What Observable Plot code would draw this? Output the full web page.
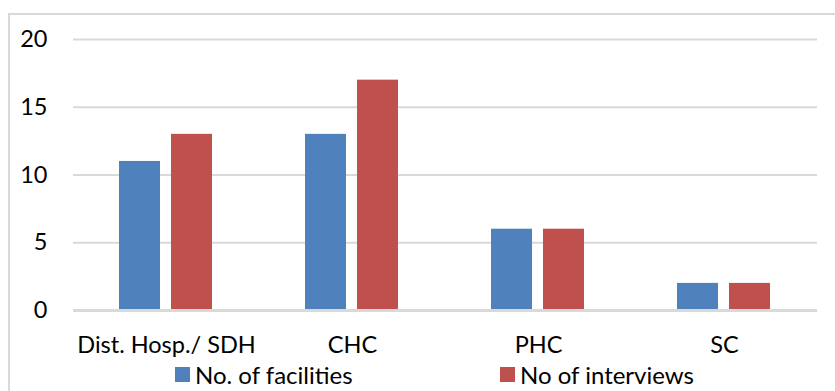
<!DOCTYPE html>
<html>
<head>
<meta charset="utf-8">
<script src="https://cdn.jsdelivr.net/npm/d3@7"></script>
<script src="https://cdn.jsdelivr.net/npm/@observablehq/plot@0.6"></script>
<style>
  html, body { margin: 0; padding: 0; background: #fff; }
  #wrap { position: relative; width: 835px; height: 391px; overflow: hidden; font-family: Lato, "Open Sans", sans-serif; }
  #frame { position: absolute; left: 8px; top: 13px; width: 900px; height: 500px; border: 2px solid #d9d9d9; box-sizing: border-box; }
  #chart { position: absolute; left: 0; top: 0; }
  .item { position: absolute; top: 360px; display: flex; align-items: center; font-size: 24px; color: #000; white-space: nowrap; }
  .swatch { width: 15px; height: 15px; margin-right: 5px; }
</style>
</head>
<body>
<div id="wrap">
  <div id="frame"></div>
  <div id="chart"></div>
  <div id="legend"></div>
</div>
<script>
// Facility types and the two counted series
const categories = ["Dist. Hosp./ SDH", "CHC", "PHC", "SC"];
const seriesNames = ["No. of facilities", "No of interviews"];
const facilities = [11, 13, 6, 2];
const interviews = [13, 17, 6, 2];
const yTicks = [0, 5, 10, 15, 20];
const colors = ["#4f81bd", "#c0504d"];

const rows = categories.flatMap((c, i) => [
  {category: c, series: seriesNames[0], value: facilities[i]},
  {category: c, series: seriesNames[1], value: interviews[i]}
]);

const chart = Plot.plot({
  width: 835,
  height: 360,
  marginLeft: 71,
  marginRight: 17,
  marginTop: 39,
  marginBottom: 50,
  style: {fontFamily: "Lato, 'Open Sans', sans-serif", fontSize: "23.5px", color: "#000", background: "transparent", overflow: "visible"},
  fx: {domain: categories, padding: 0, label: null, axis: "bottom", tickSize: 0, tickPadding: 26},
  x: {domain: seriesNames, axis: null, paddingInner: 0.2075, paddingOuter: 0.8656},
  y: {domain: [0, 20], ticks: yTicks, label: null, tickSize: 0, tickPadding: 26},
  color: {domain: seriesNames, range: colors},
  marks: [
    Plot.ruleY(yTicks.filter(d => d > 0), {stroke: "#d9d9d9", strokeWidth: 2}),
    Plot.barY(rows, {fx: "category", x: "series", y: "value", fill: "series"}),
    Plot.ruleY([0], {stroke: "#d9d9d9", strokeWidth: 3})
  ]
});
document.getElementById("chart").appendChild(chart);

// Legend below the plot
const legend = document.getElementById("legend");
const legendLeft = [175, 500];
seriesNames.forEach((name, i) => {
  const item = document.createElement("div");
  item.className = "item";
  item.style.left = legendLeft[i] + "px";
  const sw = document.createElement("span");
  sw.className = "swatch";
  sw.style.background = colors[i];
  const label = document.createElement("span");
  label.textContent = name;
  item.appendChild(sw);
  item.appendChild(label);
  legend.appendChild(item);
});
</script>
</body>
</html>
